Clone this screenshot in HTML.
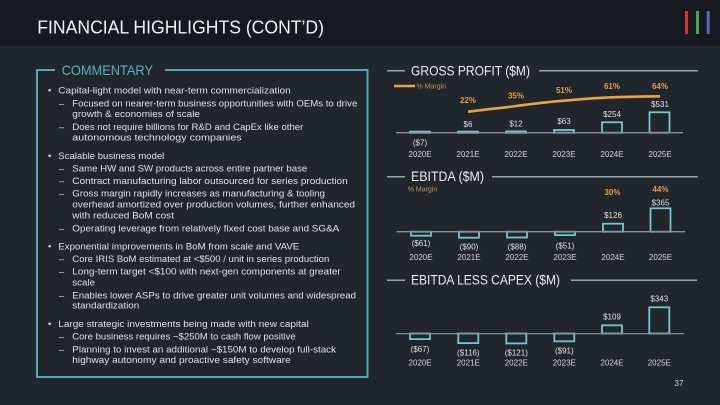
<!DOCTYPE html>
<html><head><meta charset="utf-8"><style>
html,body{margin:0;padding:0;background:#21262d;}
svg{display:block;}
</style></head><body>
<svg width="720" height="405" viewBox="0 0 720 405" xmlns="http://www.w3.org/2000/svg" font-family="'Liberation Sans', sans-serif">
<rect x="0" y="0" width="720" height="405" fill="#21262d"/>
<rect x="0" y="0" width="720" height="46" fill="#161a20"/>
<text x="37.3" y="33.3" font-size="18.5" fill="#f2f3f4" textLength="286.7" lengthAdjust="spacingAndGlyphs">FINANCIAL HIGHLIGHTS (CONT’D)</text>
<rect x="685" y="11" width="3" height="23" fill="#d8323a"/>
<rect x="696" y="11" width="3" height="23" fill="#3fae4a"/>
<rect x="706.7" y="11" width="3" height="23" fill="#4f6fb8"/>

<!-- Commentary box -->
<g fill="none" stroke="#4eaab3" stroke-width="2">
<path d="M55 70 L37 70 L37 377 L367.5 377 L367.5 70 L165 70"/>
</g>
<text x="61.7" y="75" font-size="14" fill="#56b4bd" textLength="91.3" lengthAdjust="spacingAndGlyphs">COMMENTARY</text>

<g font-size="9.3" fill="#dfe2e5" lengthAdjust="spacingAndGlyphs">
<text x="48" y="93.3">•</text>
<text x="58.3" y="93.3" textLength="232.4" lengthAdjust="spacingAndGlyphs">Capital-light model with near-term commercialization</text>
<text x="59" y="106.6">–</text>
<text x="72.3" y="106.6" textLength="285" lengthAdjust="spacingAndGlyphs">Focused on nearer-term business opportunities with OEMs to drive</text>
<text x="72.3" y="116.8" textLength="127.7" lengthAdjust="spacingAndGlyphs">growth &amp; economies of scale</text>
<text x="59" y="130">–</text>
<text x="72.3" y="130" textLength="231" lengthAdjust="spacingAndGlyphs">Does not require billions for R&amp;D and CapEx like other</text>
<text x="72.3" y="140.6" textLength="169.4" lengthAdjust="spacingAndGlyphs">autonomous technology companies</text>

<text x="48" y="159">•</text>
<text x="58.3" y="159" textLength="106" lengthAdjust="spacingAndGlyphs">Scalable business model</text>
<text x="59" y="171.6">–</text>
<text x="72.3" y="171.6" textLength="235" lengthAdjust="spacingAndGlyphs">Same HW and SW products across entire partner base</text>
<text x="59" y="184">–</text>
<text x="72.3" y="184" textLength="275.4" lengthAdjust="spacingAndGlyphs">Contract manufacturing labor outsourced for series production</text>
<text x="59" y="196.6">–</text>
<text x="72.3" y="196.6" textLength="252.7" lengthAdjust="spacingAndGlyphs">Gross margin rapidly increases as manufacturing &amp; tooling</text>
<text x="72.3" y="207.6" textLength="282.7" lengthAdjust="spacingAndGlyphs">overhead amortized over production volumes, further enhanced</text>
<text x="72.3" y="218.3" textLength="101.7" lengthAdjust="spacingAndGlyphs">with reduced BoM cost</text>
<text x="59" y="231.6">–</text>
<text x="72.3" y="231.6" textLength="267" lengthAdjust="spacingAndGlyphs">Operating leverage from relatively fixed cost base and SG&amp;A</text>

<text x="48" y="249.3">•</text>
<text x="58.3" y="249.3" textLength="241" lengthAdjust="spacingAndGlyphs">Exponential improvements in BoM from scale and VAVE</text>
<text x="59" y="262">–</text>
<text x="72.3" y="262" textLength="257" lengthAdjust="spacingAndGlyphs">Core IRIS BoM estimated at &lt;$500 / unit in series production</text>
<text x="59" y="274.3">–</text>
<text x="72.3" y="274.3" textLength="268.4" lengthAdjust="spacingAndGlyphs">Long-term target &lt;$100 with next-gen components at greater</text>
<text x="72.3" y="285.3" textLength="22.7" lengthAdjust="spacingAndGlyphs">scale</text>
<text x="59" y="298.3">–</text>
<text x="72.3" y="298.3" textLength="283.7" lengthAdjust="spacingAndGlyphs">Enables lower ASPs to drive greater unit volumes and widespread</text>
<text x="72.3" y="308.6" textLength="67" lengthAdjust="spacingAndGlyphs">standardization</text>

<text x="48" y="327">•</text>
<text x="58.3" y="327" textLength="250.4" lengthAdjust="spacingAndGlyphs">Large strategic investments being made with new capital</text>
<text x="59" y="339.6">–</text>
<text x="72.3" y="339.6" textLength="223.4" lengthAdjust="spacingAndGlyphs">Core business requires ~$250M to cash flow positive</text>
<text x="59" y="352.6">–</text>
<text x="72.3" y="352.6" textLength="263.7" lengthAdjust="spacingAndGlyphs">Planning to invest an additional ~$150M to develop full-stack</text>
<text x="72.3" y="363" textLength="218.4" lengthAdjust="spacingAndGlyphs">highway autonomy and proactive safety software</text>
</g>

<!-- Chart headers -->
<g stroke="#9aa1a8" stroke-width="1.5">
<line x1="387" y1="70.7" x2="405" y2="70.7"/>
<line x1="539" y1="70.7" x2="698" y2="70.7"/>
<line x1="387" y1="176.7" x2="405" y2="176.7"/>
<line x1="492" y1="176.7" x2="698" y2="176.7"/>
<line x1="387" y1="280.3" x2="405" y2="280.3"/>
<line x1="571" y1="280.3" x2="697" y2="280.3"/>
</g>
<g font-size="14" fill="#eceef0">
<text x="411" y="75.7" textLength="119" lengthAdjust="spacingAndGlyphs">GROSS PROFIT ($M)</text>
<text x="411" y="181" textLength="73" lengthAdjust="spacingAndGlyphs">EBITDA ($M)</text>
<text x="411" y="284.7" textLength="149" lengthAdjust="spacingAndGlyphs">EBITDA LESS CAPEX ($M)</text>
</g>

<!-- Gross profit chart -->
<g fill="none" stroke="#72c8d1" stroke-width="1.8">
<rect x="410" y="131.6" width="20" height="1.2"/>
<rect x="458" y="131.6" width="20" height="1.2"/>
<rect x="506" y="131.4" width="20" height="1.4"/>
<rect x="554" y="130" width="20" height="2.7"/>
<rect x="602" y="122.3" width="20" height="10.4"/>
<rect x="649.5" y="112.3" width="20" height="20.4"/>
</g>
<line x1="396" y1="132.7" x2="683" y2="132.7" stroke="#8a9096" stroke-width="1.3"/>
<path d="M468 111.7 C490 109 505 107.5 516 106 C535 103.6 548 101.8 564 100.7 C585 98.8 598 97.8 612 97.3 C630 96.7 645 96.4 660 96.3" fill="none" stroke="#e9a640" stroke-width="2.6"/>
<line x1="394" y1="86" x2="415" y2="86" stroke="#e9a640" stroke-width="2.4"/>
<text x="416.5" y="88.4" font-size="7" fill="#c09555">% Margin</text>
<g font-size="8" font-weight="bold" fill="#dba24a" text-anchor="middle">
<text x="468" y="102.8">22%</text>
<text x="516" y="98.5">35%</text>
<text x="564" y="92.8">51%</text>
<text x="612" y="88.8">61%</text>
<text x="660" y="88.8">64%</text>
</g>
<g font-size="8" fill="#dfe2e5" text-anchor="middle">
<text x="420" y="145.6">($7)</text>
<text x="468" y="126.9">$6</text>
<text x="516" y="126.4">$12</text>
<text x="564" y="124">$63</text>
<text x="612" y="116.9">$254</text>
<text x="660" y="106.9">$531</text>
</g>
<g font-size="8" fill="#d2d6da" text-anchor="middle">
<text x="420" y="156.9">2020E</text>
<text x="468" y="156.9">2021E</text>
<text x="516" y="156.9">2022E</text>
<text x="564" y="156.9">2023E</text>
<text x="612" y="156.9">2024E</text>
<text x="660" y="156.9">2025E</text>
</g>

<!-- EBITDA chart -->
<text x="407.7" y="191.5" font-size="7" fill="#c09555">% Margin</text>
<g fill="none" stroke="#72c8d1" stroke-width="1.8">
<rect x="411" y="231.7" width="20" height="4"/>
<rect x="459" y="231.7" width="20" height="6"/>
<rect x="507" y="231.7" width="20" height="5.8"/>
<rect x="555" y="231.7" width="20" height="3.4"/>
<rect x="603" y="223.7" width="20" height="8"/>
<rect x="650.5" y="208.3" width="20" height="23.4"/>
</g>
<line x1="396.7" y1="231.7" x2="685" y2="231.7" stroke="#8a9096" stroke-width="1.3"/>
<g font-size="8" font-weight="bold" fill="#dba24a" text-anchor="middle">
<text x="612.5" y="195.2">30%</text>
<text x="660.5" y="191.9">44%</text>
</g>
<g font-size="8" fill="#dfe2e5" text-anchor="middle">
<text x="421" y="246.2">($61)</text>
<text x="469" y="249.6">($90)</text>
<text x="517" y="249.6">($88)</text>
<text x="565" y="248.6">($51)</text>
<text x="613" y="217.9">$126</text>
<text x="660.5" y="205.6">$365</text>
</g>
<g font-size="8" fill="#d2d6da" text-anchor="middle">
<text x="421" y="260.2">2020E</text>
<text x="469" y="260.2">2021E</text>
<text x="517" y="260.2">2022E</text>
<text x="565" y="260.2">2023E</text>
<text x="613" y="260.2">2024E</text>
<text x="660.5" y="260.2">2025E</text>
</g>

<!-- EBITDA less capex chart -->
<g fill="none" stroke="#72c8d1" stroke-width="1.8">
<rect x="410" y="333.5" width="20" height="5.6"/>
<rect x="458.3" y="333.5" width="20" height="9.6"/>
<rect x="506.3" y="333.5" width="20" height="9.9"/>
<rect x="554.3" y="333.5" width="20" height="7.8"/>
<rect x="602" y="325.3" width="20" height="8.2"/>
<rect x="649.3" y="307.3" width="20" height="26.2"/>
</g>
<line x1="396" y1="333.6" x2="684" y2="333.6" stroke="#8a9096" stroke-width="1.3"/>
<g font-size="8" fill="#dfe2e5" text-anchor="middle">
<text x="420" y="352.2">($67)</text>
<text x="468.3" y="355.3">($116)</text>
<text x="516.3" y="355.3">($121)</text>
<text x="564.3" y="353.3">($91)</text>
<text x="612" y="319.6">$109</text>
<text x="659.3" y="301.6">$343</text>
</g>
<g font-size="8" fill="#d2d6da" text-anchor="middle">
<text x="420" y="365.6">2020E</text>
<text x="468.3" y="365.6">2021E</text>
<text x="516.3" y="365.6">2022E</text>
<text x="564.3" y="365.6">2023E</text>
<text x="612" y="365.6">2024E</text>
<text x="659.3" y="365.6">2025E</text>
</g>
<text x="679" y="386" font-size="8" fill="#d2d6da" text-anchor="middle">37</text>
</svg>
</body></html>
